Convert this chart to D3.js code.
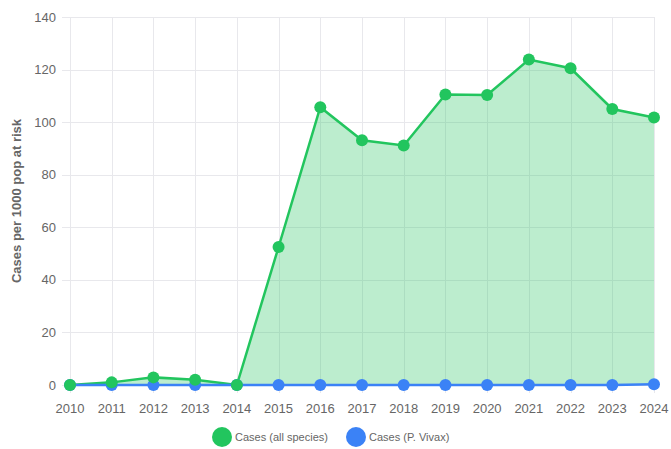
<!DOCTYPE html>
<html>
<head>
<meta charset="utf-8">
<script src="https://cdn.jsdelivr.net/npm/d3@7"></script>
<style>
  body { margin: 0; background: #fff; }
  svg { font-family: "Liberation Sans", Helvetica, Arial, sans-serif; }
</style>
</head>
<body>
<svg id="chart" width="671" height="449"></svg>
<script>
// data
const years = [2010, 2011, 2012, 2013, 2014, 2015, 2016, 2017, 2018, 2019, 2020, 2021, 2022, 2023, 2024];
const casesAll = [0, 1, 2.9, 2, 0, 52.5, 105.7, 93.1, 91.1, 110.5, 110.3, 123.8, 120.5, 105, 101.8];
const casesVivax = [0, 0, 0, 0, 0, 0, 0, 0, 0, 0, 0, 0, 0, 0, 0.3];
const yTicks = [0, 20, 40, 60, 80, 100, 120, 140];
const seriesNames = ["Cases (all species)", "Cases (P. Vivax)"];
const seriesColors = ["#22c55e", "#3b82f6"];

const svg = d3.select("#chart");
const plotL = 70, plotR = 654, plotT = 17, plotB = 385;

const x = d3.scalePoint().domain(years).range([plotL, plotR]);
const y = d3.scaleLinear().domain([0, 140]).range([plotB, plotT]);

// grid
const grid = svg.append("g").attr("stroke", "#e8e8ec").attr("stroke-width", 1);
grid.selectAll(".h").data(yTicks).join("line")
  .attr("x1", plotL - 8).attr("x2", plotR)
  .attr("y1", d => Math.round(y(d)) + 0.5).attr("y2", d => Math.round(y(d)) + 0.5);
grid.selectAll(".v").data(years).join("line")
  .attr("x1", d => Math.round(x(d)) + 0.5).attr("x2", d => Math.round(x(d)) + 0.5)
  .attr("y1", plotT).attr("y2", plotB + 8);

// y tick labels
svg.append("g").selectAll("text").data(yTicks).join("text")
  .attr("x", 56).attr("y", d => y(d)).attr("dy", "0.35em")
  .attr("text-anchor", "end").attr("font-size", 13).attr("fill", "#666")
  .text(d => d);

// x tick labels
svg.append("g").selectAll("text").data(years).join("text")
  .attr("x", d => x(d)).attr("y", 413)
  .attr("text-anchor", "middle").attr("font-size", 13).attr("fill", "#666")
  .text(d => d);

// y axis title
svg.append("text")
  .attr("transform", `translate(21,${(plotT + plotB) / 2}) rotate(-90)`)
  .attr("text-anchor", "middle").attr("font-size", 13).attr("font-weight", "bold").attr("fill", "#666")
  .text("Cases per 1000 pop at risk");

// area fill for all species
const area = d3.area().x((d, i) => x(years[i])).y0(y(0)).y1(d => y(d));
svg.append("path").datum(casesAll)
  .attr("d", area).attr("fill", "rgba(34,197,94,0.3)");

const line = d3.line().x((d, i) => x(years[i])).y(d => y(d));
[casesAll, casesVivax].forEach((vals, k) => {
  svg.append("path").datum(vals)
    .attr("d", line).attr("fill", "none")
    .attr("stroke", seriesColors[k]).attr("stroke-width", 2.5);
});
[casesVivax, casesAll].forEach(vals => {
  const k = vals === casesAll ? 0 : 1;
  svg.append("g").selectAll("circle").data(vals).join("circle")
    .attr("cx", (d, i) => x(years[i])).attr("cy", d => y(d))
    .attr("r", 6).attr("fill", seriesColors[k]);
});

// legend
const legendX = [222, 356];
const lg = svg.append("g").selectAll("g").data(seriesNames).join("g")
  .attr("transform", (d, i) => `translate(${legendX[i]},437)`);
lg.append("circle").attr("r", 10).attr("fill", (d, i) => seriesColors[i]);
lg.append("text").attr("x", 13).attr("dy", "0.35em")
  .attr("font-size", 11).attr("fill", "#666").text(d => d);
</script>
</body>
</html>
